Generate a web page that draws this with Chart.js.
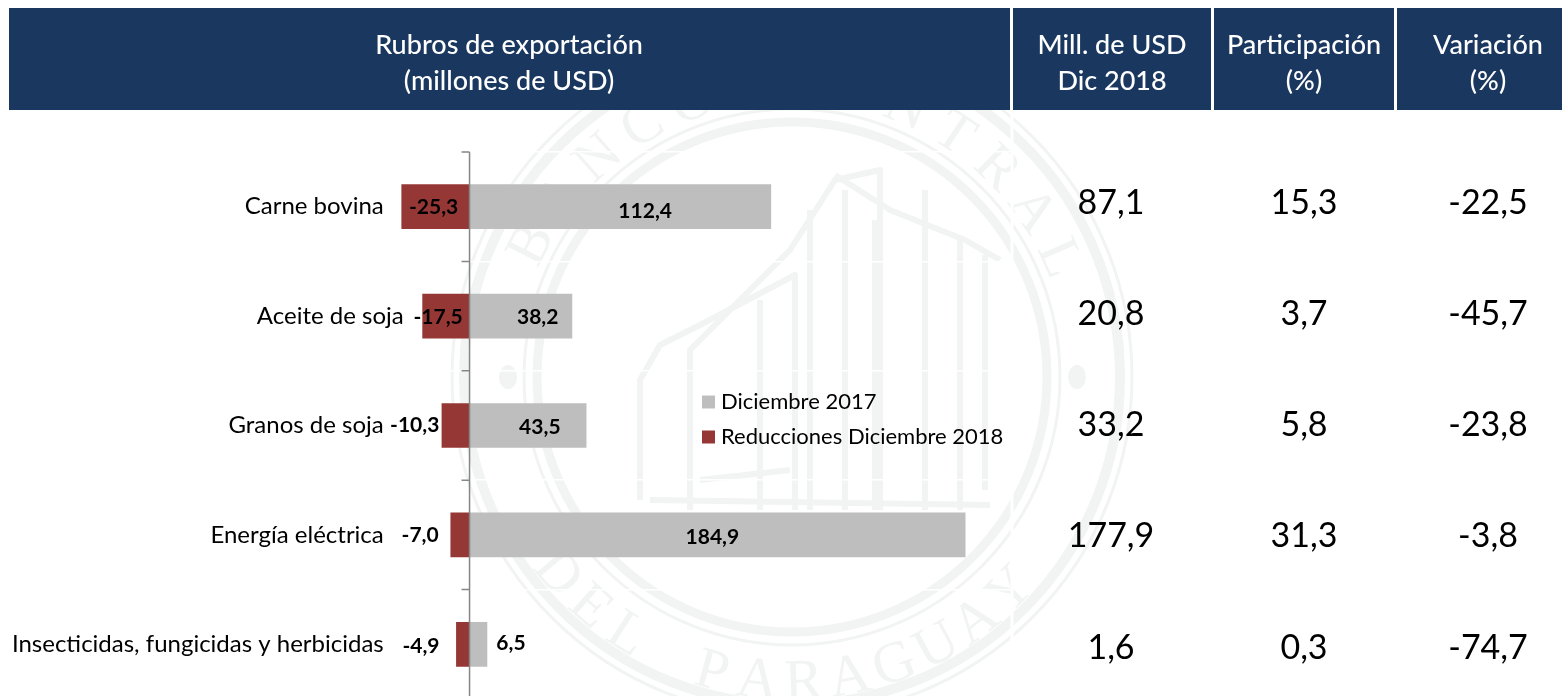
<!DOCTYPE html>
<html><head><meta charset="utf-8">
<style>html,body{margin:0;padding:0;background:#fff;overflow:hidden}#w{width:1562px;height:696px;overflow:hidden;position:relative}canvas{display:block}</style>
<script src="https://cdn.jsdelivr.net/npm/chart.js@4/dist/chart.umd.min.js"></script>
</head><body><div id="w"><canvas id="c" width="1562" height="704" style="width:1562px;height:704px"></canvas></div>
<script>
const categories = ["Carne bovina","Aceite de soja","Granos de soja","Energía eléctrica","Insecticidas, fungicidas y herbicidas"];
const dic2017 = [112.4,38.2,43.5,184.9,6.5];
const reducciones = [-25.3,-17.5,-10.3,-7.0,-4.9];
const millUSD = ["87,1","20,8","33,2","177,9","1,6"];
const participacion = ["15,3","3,7","5,8","31,3","0,3"];
const variacion = ["-22,5","-45,7","-23,8","-3,8","-74,7"];
const seriesNames = ["Diciembre 2017","Reducciones Diciembre 2018"];
const headerCols = [
  {x0:9,x1:1010,cx:509,lines:["Rubros de exportación","(millones de USD)"]},
  {x0:1013,x1:1211,cx:1112,lines:["Mill. de USD","Dic 2018"]},
  {x0:1214,x1:1394,cx:1304,lines:["Participación","(%)"]},
  {x0:1397,x1:1562,cx:1488,lines:["Variación","(%)"]}
];
const F='Lato, "Open Sans", sans-serif';
const GREY='#BEBEBE',RED='#953735',NAVY='#19375F',WM='#f1f4f2';
const posLabelDx=[25,17,12,-5,0], posLabelDy=[5,1,2,2,-1];
const negLabelDx=[-2,-8,-41,-40,-42], negLabelDy=[1,1,0,0,2];
const catLabelDx=[0,20,0,0,0];
const rowY=[203,314,425,536,648];
const colCx=[1111,1304,1488];

const page={id:'page',
 beforeDraw(ch){const c=ch.ctx;c.save();
  const y0=ch.scales.y;
  y0._computeLabelArea=()=>undefined;
  y0.getLabelItems(ch.chartArea).forEach((it,i)=>{if(!it._moved){it.options.translation[0]+=catLabelDx[i];it._moved=true;}});
  const cx=792,cy=377;c.strokeStyle=WM;
  [[255,9],[268,3],[328,10],[340,3]].forEach(([r,w])=>{c.lineWidth=w;c.beginPath();c.arc(cx,cy,r,0,Math.PI*2);c.stroke();});
  c.fillStyle=WM;[[508,377],[1077,377]].forEach(([x,y])=>{c.beginPath();c.ellipse(x,y,9,12,0,0,Math.PI*2);c.fill();});
  c.font='58px "Liberation Serif"';c.textAlign='center';c.textBaseline='alphabetic';
  const top="BANCO CENTRAL";[...top].forEach((l,i)=>{const a=(-153+i*10.75)*Math.PI/180;c.save();c.translate(cx+276*Math.cos(a),cy+276*Math.sin(a));c.rotate(a+Math.PI/2);c.fillText(l,0,0);c.restore();});
  const bot="DEL PARAGUAY";[...bot].forEach((l,i)=>{const a=(140-i*8.7)*Math.PI/180;c.save();c.translate(cx+322*Math.cos(a),cy+322*Math.sin(a));c.rotate(a-Math.PI/2);c.fillText(l,0,0);c.restore();});
  c.lineWidth=6;c.lineJoin='round';
  const paths=[[[640,500],[640,380],[660,345],[700,325],[795,275],[795,510]],[[690,510],[690,350],[790,250],[835,180],[880,170],[880,510]],
   [[810,210],[810,510]],[[845,190],[845,510]],[[875,220],[875,510]],[[925,190],[925,510]],[[960,240],[960,510]],[[985,255],[985,490]],
   [[835,175],[890,210],[965,240],[1000,260]],[[760,300],[760,510]],[[700,480],[790,470]],[[650,500],[990,505]]];
  paths.forEach(p=>{c.beginPath();p.forEach(([x,y],i)=>i?c.lineTo(x,y):c.moveTo(x,y));c.stroke();});
  c.strokeStyle='#fff';c.lineWidth=3;c.beginPath();c.moveTo(1012,110);c.lineTo(1012,696);c.stroke();
  c.restore();},
 afterDatasetsDraw(ch){const c=ch.ctx,x=ch.scales.x,y=ch.scales.y,z=x.getPixelForValue(0);c.save();
  c.strokeStyle='#868686';c.lineWidth=1.5;c.beginPath();c.moveTo(z,y.top);c.lineTo(z,y.bottom);
  for(let i=0;i<categories.length;i++){const t=y.getPixelForValue(i-0.5);c.moveTo(z-8,t);c.lineTo(z,t);}
  c.stroke();
  c.fillStyle='#000';c.textAlign='center';c.textBaseline='middle';
  c.font='bold 21px '+F;
  const m0=ch.getDatasetMeta(0).data,m1=ch.getDatasetMeta(1).data;
  dic2017.forEach((v,i)=>{const b=m0[i];const lx=v<10?b.x+24:(b.x+b.base)/2;c.fillText(String(v).replace('.',','),lx+posLabelDx[i],b.y+posLabelDy[i]);});
  reducciones.forEach((v,i)=>{const b=m1[i];c.fillText(v.toFixed(1).replace('.',','),(b.x+b.base)/2+negLabelDx[i],b.y+negLabelDy[i]);});
  c.restore();},
 afterDraw(ch){const c=ch.ctx;c.save();
  c.textAlign='center';c.textBaseline='middle';
  headerCols.forEach(h=>{c.fillStyle=NAVY;c.fillRect(h.x0,8,h.x1-h.x0,102);c.fillStyle='#fff';c.font='500 27px '+F;c.fillText(h.lines[0],h.cx,45);c.fillText(h.lines[1],h.cx,81);});
  c.fillStyle='#000';c.font='34px '+F;
  [millUSD,participacion,variacion].forEach((col,j)=>col.forEach((t,i)=>c.fillText(t,colCx[j],rowY[i])));
  c.restore();},
 afterLayout(ch){const l=ch.legend;if(l){l.left=694;l.top=378;l.right=1011;l.bottom=700;}}
};
Chart.defaults.font.family=F;
new Chart(document.getElementById('c'),{type:'bar',plugins:[page],
 data:{labels:categories,datasets:[
  {label:seriesNames[0],data:dic2017,backgroundColor:GREY,stack:'s',barThickness:44},
  {label:seriesNames[1],data:reducciones,backgroundColor:RED,stack:'s',barThickness:44}]},
 options:{indexAxis:'y',responsive:false,animation:false,
  layout:{padding:{top:152,bottom:5,right:551,left:0}},
  plugins:{tooltip:{enabled:false},title:{display:false},
   legend:{position:'chartArea',align:'start',labels:{boxWidth:3,boxHeight:3,padding:13,color:'#000',font:{size:22,family:F,lineHeight:1.2},
    generateLabels(ch){return ch.data.datasets.map((d,i)=>({text:d.label,fillStyle:d.backgroundColor,strokeStyle:d.backgroundColor,lineWidth:10,datasetIndex:i,hidden:false}));}}}},
  scales:{
   x:{type:'linear',stacked:true,min:-32,max:202,display:false},
   y:{type:'category',stacked:true,border:{display:false},
      grid:{color:'#ffffff',lineWidth:1.5,drawTicks:false},
      ticks:{color:'#000',font:{size:24,family:F},padding:0,autoSkip:false},
      afterFit(s){s.width=383.76;s.paddingTop=0;s.paddingBottom=0;}}
  }}});
</script></body></html>
